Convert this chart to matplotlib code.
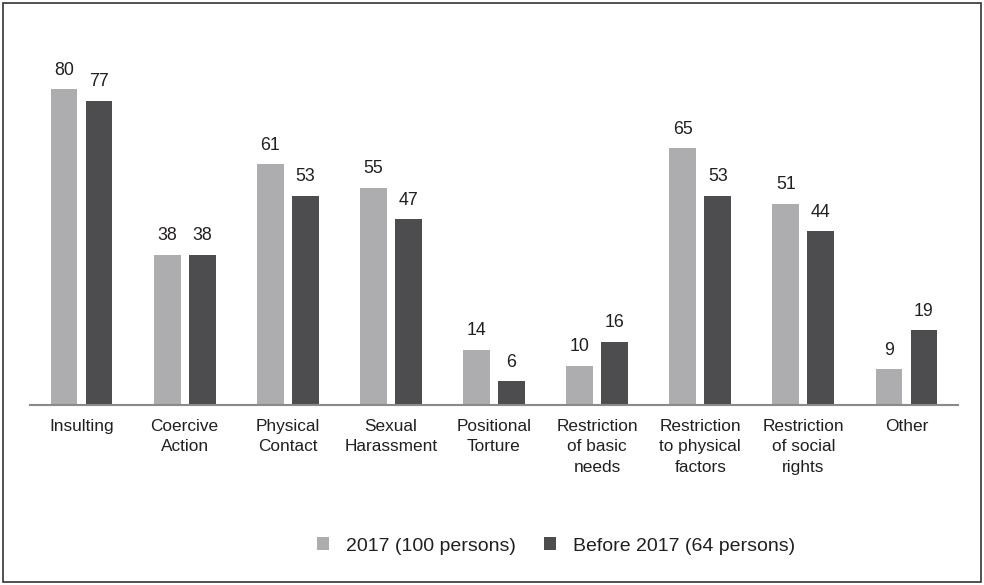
import numpy as np
import matplotlib.pyplot as plt
from matplotlib.patches import Rectangle

# categories of ill-treatment and counts for each group
categories = ["Insulting", "Coercive\nAction", "Physical\nContact", "Sexual\nHarassment",
              "Positional\nTorture", "Restriction\nof basic\nneeds",
              "Restriction\nto physical\nfactors", "Restriction\nof social\nrights", "Other"]
vals_2017 = [80, 38, 61, 55, 14, 10, 65, 51, 9]
vals_before = [77, 38, 53, 47, 6, 16, 53, 44, 19]
series_names = ["2017 (100 persons)", "Before 2017 (64 persons)"]

c_light = "#adadb0"
c_dark = "#4d4d4f"
txt = "#231f20"

plt.rcParams['font.family'] = ['Liberation Sans', 'DejaVu Sans']

fig = plt.figure(figsize=(9.84, 5.85), dpi=100)
ax = fig.add_axes([30/984, 180/585, 928/984, (405-49.5)/585])

x = np.arange(len(categories))
w = 0.26
off = 0.17
b1 = ax.bar(x - off, vals_2017, w, color=c_light, label=series_names[0])
b2 = ax.bar(x + off, vals_before, w, color=c_dark, label=series_names[1])

for bars, vals in ((b1, vals_2017), (b2, vals_before)):
    for r, v in zip(bars, vals):
        ax.annotate(str(v), (r.get_x() + r.get_width()/2, v), xytext=(0, 7.5),
                    textcoords="offset points", ha="center", va="bottom",
                    fontsize=12.8, color=txt)

ax.set_xlim(-0.5, len(categories) - 0.5)
ax.set_ylim(0, 90)
ax.set_yticks([])
ax.set_xticks(x)
ax.set_xticklabels(categories, fontsize=12.4, color=txt, linespacing=1.45)
ax.tick_params(axis="x", length=0, pad=10)
for s in ("top", "right", "left"):
    ax.spines[s].set_visible(False)
ax.spines["bottom"].set_color("#8a8a8c")
ax.spines["bottom"].set_linewidth(1.5)

leg = fig.legend(handles=[b1, b2], labels=series_names, loc="center",
                 bbox_to_anchor=(556/984, 1 - 546/585), ncol=2, frameon=False,
                 fontsize=14, handlelength=0.62, handleheight=0.62,
                 handletextpad=0.88, columnspacing=1.44)
for t in leg.get_texts():
    t.set_color(txt)

# outer frame
fig.patches.append(Rectangle((3/984, 3/585), 978/984, 579/585, transform=fig.transFigure,
                             fill=False, edgecolor="#333333", linewidth=1.2))

fig.savefig("out.png", dpi=100)
